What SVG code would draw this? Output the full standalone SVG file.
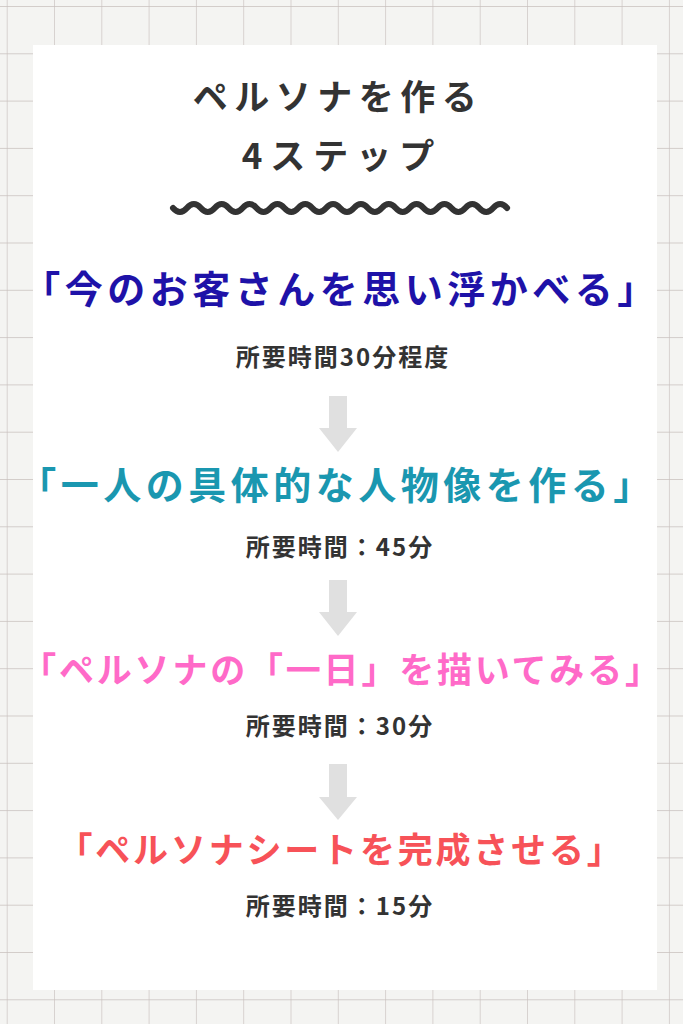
<svg xmlns="http://www.w3.org/2000/svg" width="683" height="1024" viewBox="0 0 683 1024">
<defs>
<style>
.t{font-family:"Noto Sans CJK JP","Noto Sans",sans-serif;font-weight:700;text-anchor:middle}
.title{font-size:35px;fill:#333;letter-spacing:6.5px}
.step{font-size:38px;letter-spacing:4.5px}
.stepS{font-size:35px;letter-spacing:2.8px}
.dur{font-size:24px;fill:#333;letter-spacing:2px;font-weight:700}
.arrow{fill:#e0e0e0}
.grid{stroke:#c8c0bd;stroke-width:1.3;fill:none}
</style>
<pattern id="grid" x="6.7" y="6" width="47.3" height="47.3" patternUnits="userSpaceOnUse">
<path class="grid" d="M0,0 V47.3 M0,0 H47.3"/>
</pattern>
</defs>
<rect width="683" height="1024" fill="#f4f4f2"/>
<rect width="683" height="1024" fill="url(#grid)"/>
<rect id="panel" x="33" y="45" width="624" height="945" fill="#ffffff"/>
<g id="title">
<text class="t title" x="338" y="110">ペルソナを作る</text>
<text class="t title" x="342" y="169" style="letter-spacing:8px">4ステップ</text>
<path d="M173,208 q6.96,8 13.92,0 t13.92,0 t13.92,0 t13.92,0 t13.92,0 t13.92,0 t13.92,0 t13.92,0 t13.92,0 t13.92,0 t13.92,0 t13.92,0 t13.92,0 t13.92,0 t13.92,0 t13.92,0 t13.92,0 t13.92,0 t13.92,0 t13.92,0 t13.92,0 t13.92,0 t13.92,0 t13.92,0" fill="none" stroke="#333" stroke-width="6" stroke-linecap="round"/>
</g>
<g id="step1">
<text class="t step" x="341" y="303" fill="#1e12a8">「今のお客さんを思い浮かべる」</text>
<text class="t dur" x="343" y="366">所要時間30分程度</text>
</g>
<g id="step2">
<text class="t step" x="337" y="499" fill="#1a97b0">「一人の具体的な人物像を作る」</text>
<text class="t dur" x="340" y="556">所要時間：45分</text>
</g>
<g id="step3">
<text class="t stepS" x="342" y="683" fill="#ff6ac8">「ペルソナの「一日」を描いてみる」</text>
<text class="t dur" x="340" y="735">所要時間：30分</text>
</g>
<g id="step4">
<text class="t stepS" x="341" y="863" fill="#f75258">「ペルソナシートを完成させる」</text>
<text class="t dur" x="340" y="915">所要時間：15分</text>
</g>
<g id="connectors">
<polygon class="arrow" points="329,396 347,396 347,428 357,428 338,452 319,428 329,428"/>
<polygon class="arrow" points="329,580 347,580 347,612 357,612 338,636 319,612 329,612"/>
<polygon class="arrow" points="329,764 347,764 347,797 357,797 338,820 319,797 329,797"/>
</g>
</svg>
